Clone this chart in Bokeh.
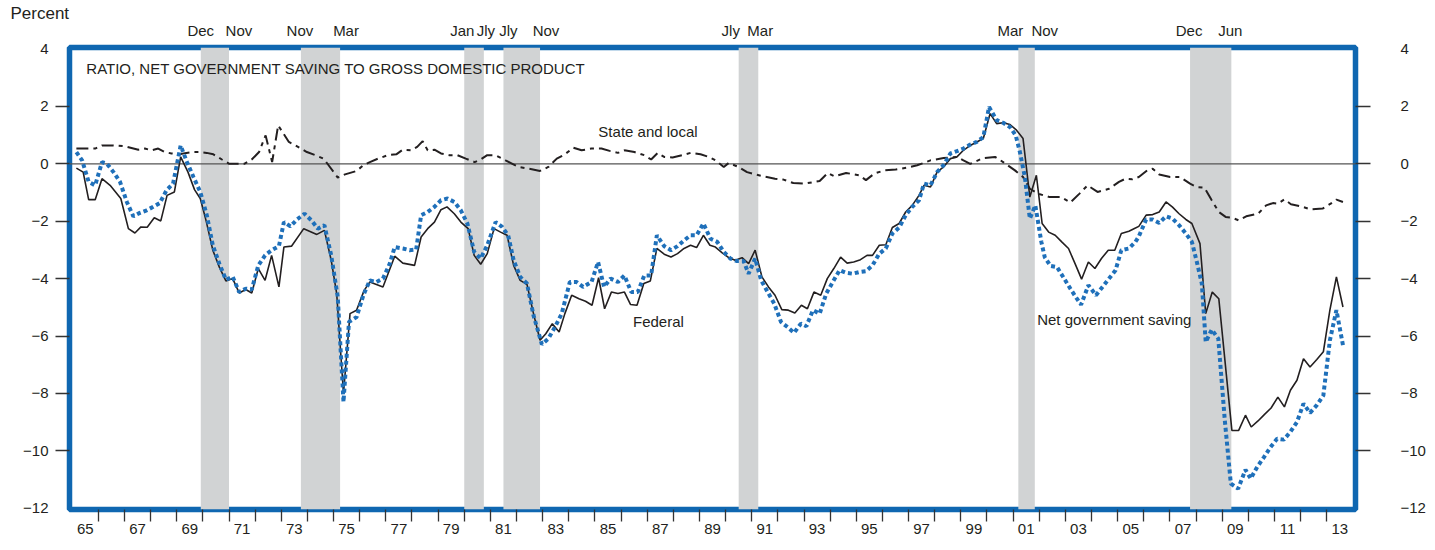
from bokeh.plotting import figure
from bokeh.models import (Range1d, FixedTicker, LinearAxis, Span, BoxAnnotation,
                          Label)
from bokeh.embed import file_html
from bokeh.resources import INLINE

# ---------------- data ----------------
fed_year = [1965.16,1965.42,1965.63,1965.88,1966.14,1966.45,1966.86,1967.15,1967.40,1967.63,1967.87,1968.14,1968.39,1968.63,1968.91,
            1969.15,1969.43,1969.68,1969.90,1970.12,1970.38,1970.63,1970.88,1971.14,1971.39,1971.64,1971.87,1972.12,1972.38,1972.63,1972.91,
            1973.10,1973.39,1973.86,1974.36,1974.65,1974.91,1975.12,1975.38,1975.63,1975.88,1976.17,1976.39,1976.89,1977.34,1977.65,1978.10,
            1978.35,1978.60,1978.86,1979.11,1979.34,1979.62,1979.87,1980.15,1980.38,1980.63,1980.88,1981.14,1981.39,1981.64,1981.89,1982.14,
            1982.40,1982.65,1982.90,1983.12,1983.37,1983.63,1983.85,1984.11,1984.39,1984.64,1984.89,1985.14,1985.37,1985.63,1985.88,1986.13,
            1986.36,1986.61,1986.87,1987.12,1987.37,1987.65,1987.91,1988.16,1988.41,1988.66,1988.89,1989.15,1989.40,1989.61,1989.87,1990.12,
            1990.37,1990.63,1990.88,1991.13,1991.39,1991.64,1991.89,1992.15,1992.40,1992.65,1992.90,1993.13,1993.38,1993.64,1993.89,1994.14,
            1994.40,1994.65,1994.90,1995.16,1995.41,1995.62,1995.88,1996.13,1996.38,1996.64,1996.89,1997.14,1997.40,1997.59,1997.84,1998.09,
            1998.34,1998.60,1998.85,1999.10,1999.36,1999.61,1999.86,2000.12,2000.37,2000.62,2000.88,2001.13,2001.38,2001.64,2001.89,2002.11,
            2002.36,2002.61,2002.86,2003.12,2003.37,2003.62,2003.88,2004.13,2004.38,2004.64,2004.89,2005.14,2005.43,2005.68,2005.81,2006.09,
            2006.34,2006.59,2006.85,2007.10,2007.35,2007.61,2007.84,2008.15,2008.37,2008.62,2008.87,2009.37,2009.63,2009.89,2010.11,2010.37,
            2010.62,2010.87,2011.13,2011.38,2011.61,2011.86,2012.11,2012.36,2012.62,2012.87,2013.12,2013.37,2013.62]
fed_val = [-0.15,-0.29,-1.25,-1.25,-0.52,-0.75,-1.21,-2.26,-2.41,-2.20,-2.21,-1.88,-1.99,-1.10,-0.98,
           0.24,-0.29,-0.90,-1.21,-1.97,-3.01,-3.60,-4.08,-4.00,-4.50,-4.38,-4.50,-3.65,-4.06,-3.19,-4.29,
           -2.90,-2.87,-2.26,-2.46,-2.32,-3.36,-4.52,-8.01,-5.22,-5.10,-4.41,-4.12,-4.29,-3.22,-3.46,-3.54,
           -2.55,-2.26,-2.03,-1.60,-1.50,-1.74,-2.03,-2.26,-3.19,-3.50,-3.13,-2.26,-2.38,-2.49,-3.54,-4.06,
           -4.20,-5.22,-6.15,-5.92,-5.57,-5.86,-5.22,-4.58,-4.70,-4.79,-4.93,-3.97,-5.05,-4.47,-4.52,-4.47,
           -4.90,-4.93,-4.17,-4.08,-2.95,-3.15,-3.25,-3.13,-2.95,-2.84,-2.92,-2.49,-2.84,-2.90,-3.10,-3.27,
           -3.36,-3.27,-3.48,-3.01,-3.94,-4.29,-4.58,-5.08,-5.10,-5.20,-4.93,-5.05,-4.47,-4.58,-4.00,-3.65,
           -3.25,-3.46,-3.42,-3.34,-3.19,-3.19,-2.84,-2.82,-2.22,-2.08,-1.68,-1.45,-1.10,-0.75,-0.81,-0.29,
           -0.11,0.18,0.24,0.47,0.64,0.76,0.88,1.75,1.40,1.43,1.37,1.17,0.88,-1.16,-0.40,-2.08,
           -2.38,-2.49,-2.72,-2.95,-3.48,-4.02,-3.42,-3.65,-3.30,-3.01,-3.01,-2.43,-2.35,-2.24,-2.18,-1.79,
           -1.77,-1.68,-1.33,-1.51,-1.74,-1.94,-2.08,-2.78,-5.22,-4.47,-4.70,-9.29,-9.29,-8.76,-9.17,-8.96,
           -8.73,-8.51,-8.13,-8.47,-7.89,-7.54,-6.79,-7.08,-6.82,-6.55,-5.10,-3.94,-4.99]

net_year = [1965.16,1965.38,1965.63,1965.88,1966.14,1966.33,1966.58,1966.83,1967.09,1967.34,1967.59,1967.85,1968.10,1968.35,1968.61,
            1968.86,1969.15,1969.39,1969.64,1969.90,1970.15,1970.38,1970.63,1970.88,1971.14,1971.39,1971.64,1971.87,1972.12,1972.38,
            1972.63,1972.91,1973.10,1973.35,1973.60,1973.89,1974.15,1974.40,1974.65,1974.91,1975.16,1975.38,1975.59,1975.88,1976.14,
            1976.39,1976.64,1976.89,1977.15,1977.34,1977.65,1977.91,1978.16,1978.35,1978.60,1978.86,1979.11,1979.36,1979.62,1979.87,
            1980.12,1980.38,1980.63,1980.88,1981.20,1981.45,1981.68,1981.89,1982.14,1982.40,1982.65,1982.97,1983.22,1983.47,1983.73,
            1984.04,1984.30,1984.55,1984.87,1985.12,1985.35,1985.60,1985.88,1986.13,1986.39,1986.64,1986.89,1987.15,1987.37,1987.65,
            1987.91,1988.16,1988.41,1988.66,1988.89,1989.15,1989.42,1989.68,1989.93,1990.18,1990.44,1990.69,1990.88,1991.13,1991.36,
            1991.61,1991.86,1992.12,1992.37,1992.62,1992.88,1993.09,1993.34,1993.60,1993.85,1994.10,1994.36,1994.61,1994.86,1995.12,
            1995.37,1995.62,1995.88,1996.13,1996.38,1996.64,1996.89,1997.14,1997.40,1997.59,1997.84,1998.09,1998.34,1998.60,1998.85,
            1999.10,1999.36,1999.61,1999.86,2000.08,2000.37,2000.62,2000.88,2001.10,2001.26,2001.45,2001.64,2001.85,2002.08,2002.21,
            2002.43,2002.68,2002.94,2003.19,2003.44,2003.60,2003.88,2004.17,2004.42,2004.67,2004.92,2005.14,2005.43,2005.68,2005.81,
            2006.09,2006.34,2006.59,2006.85,2007.10,2007.35,2007.61,2007.84,2008.03,2008.22,2008.37,2008.60,2008.85,2009.10,2009.33,
            2009.61,2009.89,2010.09,2010.34,2010.60,2010.85,2011.10,2011.36,2011.61,2011.86,2012.11,2012.36,2012.62,2012.87,2013.12,
            2013.37,2013.62]
net_val = [0.41,0.12,-0.63,-0.75,0.06,0.00,-0.29,-0.63,-1.33,-1.83,-1.71,-1.62,-1.50,-1.37,-0.92,
           -0.69,0.64,0.06,-0.46,-0.98,-1.79,-2.84,-3.48,-4.04,-3.94,-4.47,-4.35,-4.38,-3.54,-3.19,
           -3.01,-2.87,-2.03,-2.18,-1.94,-1.74,-1.97,-2.26,-2.14,-3.19,-4.64,-8.30,-5.51,-5.34,-4.58,
           -4.06,-4.12,-4.00,-3.48,-2.90,-2.95,-3.01,-2.99,-1.79,-1.68,-1.50,-1.27,-1.21,-1.33,-1.62,
           -2.08,-3.07,-3.30,-2.84,-2.03,-2.20,-2.49,-3.36,-3.94,-4.17,-5.28,-6.29,-6.09,-5.69,-5.22,
           -4.12,-4.12,-4.29,-4.12,-3.42,-4.29,-4.00,-4.12,-3.89,-4.47,-4.47,-3.89,-3.89,-2.49,-2.87,
           -3.01,-2.87,-2.67,-2.49,-2.49,-2.08,-2.61,-2.72,-3.07,-3.30,-3.39,-3.39,-3.83,-3.30,-4.06,
           -4.47,-4.87,-5.51,-5.69,-5.89,-5.57,-5.66,-5.10,-5.22,-4.52,-4.12,-3.71,-3.80,-3.83,-3.77,
           -3.74,-3.54,-3.13,-2.95,-2.43,-2.22,-1.79,-1.50,-1.27,-0.69,-0.75,-0.29,-0.05,0.36,0.44,
           0.53,0.67,0.76,0.93,1.98,1.52,1.43,1.28,0.99,0.41,-0.46,-1.91,-1.45,-2.72,-3.25,
           -3.56,-3.60,-3.98,-4.35,-4.70,-4.91,-4.23,-4.58,-4.29,-4.00,-3.71,-3.01,-2.95,-2.72,-2.53,
           -1.94,-1.94,-2.06,-1.83,-1.91,-2.14,-2.43,-2.72,-3.42,-4.17,-6.21,-5.78,-6.09,-8.94,-11.14,
           -11.32,-10.66,-10.97,-10.56,-10.22,-9.87,-9.58,-9.61,-9.34,-9.00,-8.36,-8.68,-8.41,-8.07,-6.15,
           -5.10,-6.32]

sl_year = [1965.16,1965.88,1966.14,1966.58,1967.02,1967.53,1967.78,1968.04,1968.29,1968.54,1968.80,1969.11,1969.37,1969.62,1969.90,
           1970.15,1970.40,1970.73,1971.01,1971.26,1971.58,1971.87,1972.15,1972.40,1972.65,1972.88,1973.29,1973.54,1973.98,1974.30,
           1974.62,1974.81,1975.16,1975.44,1975.88,1976.14,1976.39,1976.70,1977.08,1977.40,1977.65,1977.97,1978.20,1978.41,1978.60,
           1978.86,1979.11,1979.43,1979.74,1980.06,1980.40,1980.63,1980.88,1981.20,1981.58,1982.08,1982.46,1982.90,1983.22,1983.54,
           1983.85,1984.17,1984.49,1984.87,1985.25,1985.56,1985.88,1986.13,1986.51,1986.89,1987.15,1987.40,1987.65,1987.97,1988.35,
           1988.66,1989.04,1989.36,1989.61,1989.93,1990.12,1990.50,1990.82,1991.13,1991.45,1991.89,1992.21,1992.59,1993.03,1993.60,
           1993.91,1994.17,1994.61,1995.12,1995.37,1995.69,1996.07,1996.51,1996.95,1997.33,1997.59,1997.84,1998.34,1998.85,1999.10,
           1999.36,1999.86,2000.31,2000.62,2001.07,2001.38,2001.64,2001.95,2002.40,2002.84,2003.19,2003.54,2003.85,2004.23,2004.67,
           2005.05,2005.30,2005.56,2005.81,2006.13,2006.34,2006.59,2007.01,2007.39,2007.77,2008.03,2008.32,2008.60,2008.87,2009.13,
           2009.38,2009.63,2009.92,2010.37,2010.68,2010.94,2011.13,2011.38,2011.63,2012.01,2012.39,2012.84,2013.15,2013.37,2013.62]
sl_val = [0.53,0.53,0.64,0.64,0.61,0.49,0.53,0.47,0.53,0.41,0.36,0.33,0.38,0.41,0.41,
          0.38,0.33,0.15,0.00,0.00,0.00,0.15,0.41,0.99,0.06,1.34,0.76,0.64,0.41,0.30,
          0.18,-0.05,-0.48,-0.37,-0.25,-0.05,0.06,0.18,0.30,0.33,0.49,0.47,0.59,0.79,0.47,
          0.49,0.36,0.30,0.30,0.18,0.06,0.15,0.30,0.30,0.12,-0.11,-0.17,-0.25,-0.11,0.18,
          0.33,0.56,0.47,0.53,0.53,0.45,0.38,0.47,0.41,0.30,0.15,0.38,0.24,0.22,0.30,
          0.38,0.33,0.24,0.12,-0.11,0.03,-0.11,-0.29,-0.37,-0.44,-0.52,-0.55,-0.67,-0.69,-0.60,
          -0.32,-0.44,-0.32,-0.40,-0.57,-0.34,-0.23,-0.20,-0.13,-0.05,0.03,0.12,0.20,0.24,0.12,
          0.00,0.20,0.24,0.06,-0.23,-0.46,-0.87,-1.04,-1.16,-1.16,-1.35,-1.04,-0.75,-0.98,-0.87,
          -0.63,-0.52,-0.54,-0.46,-0.23,-0.17,-0.37,-0.46,-0.46,-0.69,-0.81,-0.83,-1.27,-1.68,-1.85,
          -1.88,-1.97,-1.83,-1.74,-1.45,-1.37,-1.39,-1.24,-1.41,-1.48,-1.59,-1.56,-1.39,-1.25,-1.33]

rec_start = [1969.92, 1973.75, 1980.00, 1981.50, 1990.50, 2001.20, 2007.77]
rec_end = [1971.00, 1975.25, 1980.75, 1982.90, 1991.25, 2001.83, 2009.35]
rec_start_label = ["Dec", "Nov", "Jan", "Jly", "Jly", "Mar", "Dec"]
rec_end_label = ["Nov", "Mar", "Jly", "Nov", "Mar", "Nov", "Jun"]

x_label_years = list(range(1965, 2014, 2))
x_tick_labels = ["65", "67", "69", "71", "73", "75", "77", "79", "81", "83", "85", "87", "89",
                 "91", "93", "95", "97", "99", "01", "03", "05", "07", "09", "11", "13"]
year_ticks = list(range(1966, 2014))
y_ticks = [-12, -10, -8, -6, -4, -2, 0, 2, 4]
y_tick_labels = ["\u221212", "\u221210", "\u22128", "\u22126", "\u22124", "\u22122", "0", "2", "4"]

# ---------------- style ----------------
FONT = "Liberation Sans"
BLUE_FRAME = "#0f67b1"
BLUE_LINE = "#1f70ba"
INK = "#231f20"
TICK = "#333333"
SHADE = "#d1d3d4"
FS = "15px"
PX_PER_YEAR = 26.34

p = figure(width=1428, height=545,
           x_range=Range1d(1964.897, 2014.10), y_range=Range1d(-12.045, 4.052),
           output_backend="svg", toolbar_location=None,
           min_border_left=69, min_border_right=63, min_border_top=47, min_border_bottom=36)
p.title.text = "Percent"
p.title.align = "left"
p.title.offset = -59
p.title.standoff = -9
p.title.text_font = FONT
p.title.text_font_size = "17px"
p.title.text_font_style = "normal"
p.title.text_color = INK
p.grid.visible = False
p.outline_line_color = BLUE_FRAME
p.outline_line_width = 5.5
p.outline_line_alpha = 1.0
p.background_fill_color = "white"
p.border_fill_color = "white"


def style_ticks(ax, tick_out):
    ax.major_tick_out = 0
    ax.major_tick_in = 0
    ax.minor_tick_out = tick_out
    ax.minor_tick_in = 0
    ax.minor_tick_line_color = TICK
    ax.minor_tick_line_width = 1.3
    ax.axis_line_color = None
    ax.major_label_text_font = FONT
    ax.major_label_text_font_size = FS
    ax.major_label_text_color = INK


# x axis: labels centred in odd years, ticks at every year boundary
xa = p.xaxis[0]
x_label_pos = [yr + 0.5 for yr in x_label_years]
xa.ticker = FixedTicker(ticks=x_label_pos, minor_ticks=year_ticks)
xa.major_label_overrides = {t: s for t, s in zip(x_label_pos, x_tick_labels)}
style_ticks(xa, 12)
xa.major_label_standoff = 2

# left y axis
ya = p.yaxis[0]
ya.ticker = FixedTicker(ticks=y_ticks, minor_ticks=y_ticks[1:-1])
ya.major_label_overrides = {t: s for t, s in zip(y_ticks, y_tick_labels)}
style_ticks(ya, 14)
ya.major_label_standoff = 7

# right y axis
ra = LinearAxis(ticker=FixedTicker(ticks=y_ticks, minor_ticks=y_ticks[1:-1]))
ra.major_label_overrides = {t: s for t, s in zip(y_ticks, y_tick_labels)}
style_ticks(ra, 15)
ra.major_label_text_align = "right"
ra.major_label_standoff = 30
p.add_layout(ra, "right")

# recession month labels: an axis above the frame
lab_off = [0, -1, -2, 5, -8, -8, -1] + [10, 6, 2, 6, 2, 10, -1]
rec_dates = rec_start + rec_end
rec_labels = rec_start_label + rec_end_label
rec_tick_pos = [d + o / PX_PER_YEAR for d, o in zip(rec_dates, lab_off)]
ta = LinearAxis(ticker=FixedTicker(ticks=rec_tick_pos))
ta.major_label_overrides = {t: s for t, s in zip(rec_tick_pos, rec_labels)}
style_ticks(ta, 0)
ta.major_label_standoff = 9
p.add_layout(ta, "above")

# recession shading
for s, e in zip(rec_start, rec_end):
    p.add_layout(BoxAnnotation(left=s, right=e, fill_color=SHADE, fill_alpha=1.0,
                               line_color=None, level="underlay"))
p.add_layout(Span(location=0, dimension="width", line_color="#555555",
                  line_width=1.2, level="underlay"))

# series
p.line(fed_year, fed_val, line_color=INK, line_width=1.6)
p.line(sl_year, sl_val, line_color=INK, line_width=2.0, line_dash="12 5 4 5")
p.line(net_year, net_val, line_color=BLUE_LINE, line_width=4.0, line_dash="4 3")


def lab(x, y, t, align="left", size=FS):
    p.add_layout(Label(x=x, y=y, text=t, text_align=align, text_baseline="middle",
                       text_font=FONT, text_font_size=size, text_color=INK))


lab(1965.54, 3.33, "RATIO, NET GOVERNMENT SAVING TO GROSS DOMESTIC PRODUCT")
lab(1987.03, 1.13, "State and local", align="center")
lab(1987.43, -5.49, "Federal", align="center")
lab(2004.87, -5.42, "Net government saving", align="center")

open("out.html", "w").write(file_html(p, INLINE))
